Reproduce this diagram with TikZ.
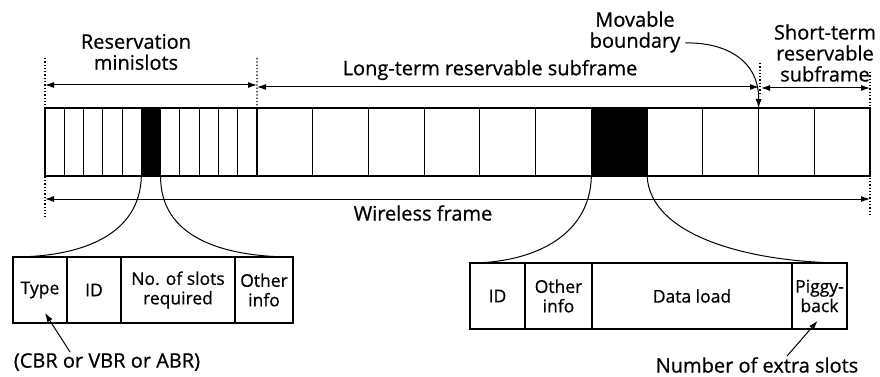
\documentclass[tikz,border=0pt]{standalone}
\usepackage{fontspec}
\setmainfont{Open Sans}
\newfontfamily\heavy{Open Sans}[FakeBold=0.7]
\usetikzlibrary{arrows.meta,positioning,calc}
\tikzset{
  slot/.style={draw,line width=1.1pt,minimum height=68pt,inner sep=0pt,outer sep=0pt,anchor=north west},
  field/.style={draw,line width=1.1pt,minimum height=66pt,inner sep=0pt,outer sep=0pt,align=center,font=\heavy\fontsize{17.5}{19.5}\selectfont},
  lbl/.style={align=center,inner sep=1pt,font=\heavy\fontsize{20}{21}\selectfont},
  span/.style={{Latex[length=9pt,width=6pt]}-{Latex[length=9pt,width=6pt]},line width=1pt},
  pointer/.style={-{Latex[length=9pt,width=6pt]},line width=1pt},
  guide/.style={dotted,line width=1.3pt},
  fan/.style={line width=1pt}
}
\begin{document}
\begin{tikzpicture}[x=1pt,y=-1pt]
\useasboundingbox (0,0) rectangle (880,377);

% frame: eleven minislots, then eleven data slots
\foreach \i in {1,...,11}
  \node[slot,minimum width=19.27pt] (m\i) at ({45+(\i-1)*19.27},108) {};
\foreach \i in {1,...,11}
  \node[slot,minimum width=55.73pt] (s\i) at ({257+(\i-1)*55.73},108) {};
\fill (m6.north west) rectangle (m6.south east);
\fill (s7.north west) rectangle (s7.south east);

% dotted guides
\coordinate (ga) at (45,58);
\coordinate (gb) at (45,217);
\coordinate (gc) at (257,58);
\coordinate (gd) at (760,63);
\coordinate (ge) at (760,96);
\coordinate (gf) at (870,72);
\coordinate (gg) at (870,217);
\draw[guide] (ga) -- (gb);
\draw[guide] (gc) -- (m11.north east);
\draw[guide] (gd) -- (ge);
\draw[guide] (gf) -- (gg);

% spans
\coordinate (ra) at (45,85);
\coordinate (rb) at (257,85);
\coordinate (la) at (257,87);
\coordinate (lb) at (759,87);
\coordinate (sa) at (761,88);
\coordinate (sb) at (870,88);
\coordinate (wa) at (45,199);
\coordinate (wb) at (870,199);
\draw[span] (ra) -- (rb);
\draw[span] (la) -- (lb);
\draw[span] (sa) -- (sb);
\draw[span] (wa) -- (wb);

\node[lbl] (res) at (136,52) {Reservation\\minislots};
\node[lbl] (long) at (490,70) {Long-term reservable subframe};
\node[lbl] (mov) at (635,32) {Movable\\boundary};
\node[lbl] (short) at (825,53) {Short-term\\reservable\\subframe};
\node[lbl] (wire) at (423,213) {Wireless frame};

% movable boundary pointer
\draw[pointer] ($(mov.east)+(4,11)$) .. controls (722,42) and (759,58) .. (s9.north east);

% reservation minislot fields
\node[field,minimum width=54pt,anchor=north west] (tp) at (13,257) {Type};
\node[field,minimum width=54pt,right=0pt of tp] (rid) {ID};
\node[field,minimum width=114pt,right=0pt of rid] (nos) {No. of slots\\required};
\node[field,minimum width=58pt,right=0pt of nos] (roi) {Other\\info};
\draw[fan] (m6.south west) .. controls (140,236) and (80,257) .. (tp.north west);
\draw[fan] (m6.south east) .. controls (160,236) and (220,257) .. (roi.north east);

% data slot fields
\node[field,minimum width=55pt,anchor=north west] (did) at (470,263) {ID};
\node[field,minimum width=67pt,right=0pt of did] (doi) {Other\\info};
\node[field,minimum width=200pt,right=0pt of doi] (dl) {Data load};
\node[field,minimum width=55pt,right=0pt of dl] (pb) {Piggy-\\back};
\draw[fan] (s7.south west) .. controls (590,238) and (530,263) .. (did.north west);
\draw[fan] (s7.south east) .. controls (650,236) and (750,263) .. (pb.north east);

% notes below
\node[lbl] (cbr) at (107,362) {(CBR or VBR or ABR)};
\node[lbl] (nx) at (757,365) {Number of extra slots};
\draw[pointer] ([xshift=-37pt]cbr.north) -- ([xshift=5pt,yshift=10pt]tp.south);
\draw[pointer] ([xshift=30pt]nx.north) -- ([xshift=-2pt,yshift=8pt]pb.south);
\end{tikzpicture}
\end{document}
